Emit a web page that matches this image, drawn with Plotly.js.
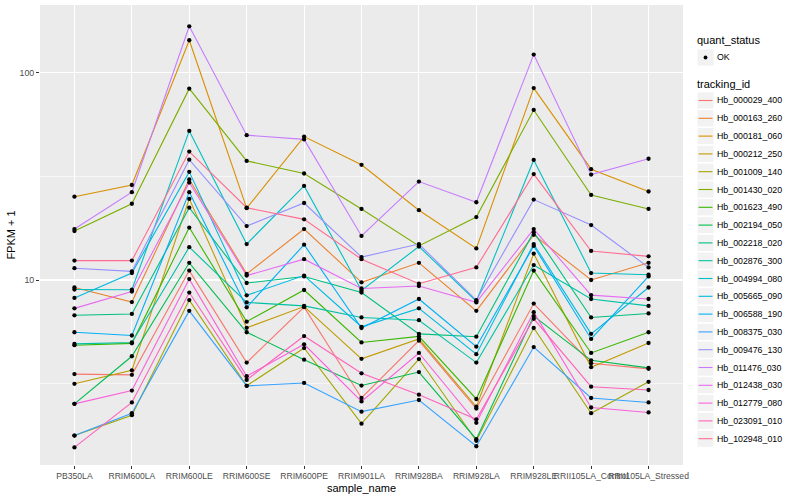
<!DOCTYPE html>
<html><head><meta charset="utf-8">
<script src="https://cdn.plot.ly/plotly-3.0.1.min.js"></script>
<style>html,body{margin:0;padding:0;background:#fff}#chart{width:800px;height:500px}</style>
</head><body><div id="chart"></div>
<script>
// ---- data ----
const samples = ["PB350LA","RRIM600LA","RRIM600LE","RRIM600SE","RRIM600PE","RRIM901LA","RRIM928BA","RRIM928LA","RRIM928LE","RRII105LA_Control","RRII105LA_Stressed"];
const trackingIds = ["Hb_000029_400","Hb_000163_260","Hb_000181_060","Hb_000212_250","Hb_001009_140","Hb_001430_020","Hb_001623_490","Hb_002194_050","Hb_002218_020","Hb_002876_300","Hb_004994_080","Hb_005665_090","Hb_006588_190","Hb_008375_030","Hb_009476_130","Hb_011476_030","Hb_012438_030","Hb_012779_080","Hb_023091_010","Hb_102948_010"];
const quantStatus = ["OK"];

// FPKM + 1 per sample, in sample order
const Hb_000029_400 = [3.52, 3.49, 11.1, 4.0, 7.4, 2.7, 5.1, 2.4, 7.7, 3.97, 3.73];
const Hb_000163_260 = [9.2, 7.83, 30.5, 10.7, 17.6, 9.75, 12.1, 7.1, 16.5, 10.0, 12.1];
const Hb_000181_060 = [25.2, 28.7, 143, 22.2, 49.1, 35.9, 21.7, 14.2, 84.1, 34.2, 26.7];
const Hb_000212_250 = [3.16, 3.67, 24.6, 5.88, 7.45, 4.17, 5.2, 2.45, 13.4, 3.8, 4.97];
const Hb_001009_140 = [1.78, 2.23, 8.0, 3.09, 4.7, 2.03, 4.16, 1.68, 5.87, 2.28, 3.23];
const Hb_001430_020 = [17.2, 23.3, 83.6, 37.5, 32.6, 22.0, 14.6, 20.1, 66, 25.7, 22.0];
const Hb_001623_490 = [4.85, 4.95, 17.9, 6.3, 8.95, 5.0, 5.35, 2.67, 11.1, 4.45, 5.6];
const Hb_002194_050 = [2.53, 4.29, 12.1, 5.6, 4.13, 3.1, 3.6, 1.71, 6.7, 4.1, 3.77];
const Hb_002218_020 = [6.76, 6.86, 22.3, 9.67, 10.4, 8.7, 5.5, 5.33, 17.0, 6.6, 6.9];
const Hb_002876_300 = [4.92, 5.0, 14.4, 7.8, 7.5, 6.6, 6.4, 4.0, 11.8, 8.1, 7.5];
const Hb_004994_080 = [9.0, 8.98, 52.3, 14.9, 28.4, 8.9, 14.5, 7.9, 37.9, 10.8, 10.6];
const Hb_005665_090 = [8.2, 10.8, 33.2, 8.44, 10.5, 5.95, 7.3, 4.39, 14.9, 5.5, 9.2];
const Hb_006588_190 = [5.6, 5.4, 26.5, 7.38, 14.8, 5.87, 8.1, 4.77, 14.6, 5.2, 10.4];
const Hb_008375_030 = [1.78, 2.28, 7.1, 3.09, 3.19, 2.32, 2.64, 1.58, 4.75, 2.7, 2.57];
const Hb_009476_130 = [11.4, 11.0, 38, 18.2, 23.5, 12.9, 14.9, 8.0, 24.4, 18.4, 11.5];
const Hb_011476_030 = [17.6, 26.5, 167, 49.9, 47.6, 16.3, 29.8, 23.7, 122, 32.2, 38.4];
const Hb_012438_030 = [7.3, 8.8, 29.5, 10.5, 12.6, 9.1, 9.35, 7.8, 17.6, 8.45, 8.1];
const Hb_012779_080 = [2.53, 2.93, 10.1, 3.44, 4.9, 2.6, 4.45, 2.05, 7.0, 2.43, 2.3];
const Hb_023091_010 = [1.56, 2.57, 8.7, 3.3, 5.37, 3.55, 2.8, 2.13, 6.5, 3.06, 2.95];
const Hb_102948_010 = [12.4, 12.4, 41.6, 22.3, 19.6, 12.6, 9.6, 11.5, 32.4, 13.8, 13.0];

const seriesValues = [Hb_000029_400, Hb_000163_260, Hb_000181_060, Hb_000212_250, Hb_001009_140, Hb_001430_020, Hb_001623_490, Hb_002194_050, Hb_002218_020, Hb_002876_300, Hb_004994_080, Hb_005665_090, Hb_006588_190, Hb_008375_030, Hb_009476_130, Hb_011476_030, Hb_012438_030, Hb_012779_080, Hb_023091_010, Hb_102948_010];

// ---- style ----
const seriesColors = ["#F8766D","#EA8331","#D89000","#C09B00","#A3A500","#7CAE00","#39B600","#00BB4E","#00BF7D","#00C1A3","#00BFC4","#00BAE0","#00B0F6","#35A2FF","#9590FF","#C77CFF","#E76BF3","#FA62DB","#FF62BC","#FF6C91"];
const FONT = "Liberation Sans, Arial, Helvetica, sans-serif";

const traces = [];
seriesValues.forEach((vals, i) => {
  traces.push({type:'scatter', mode:'lines', x:samples, y:vals, name:trackingIds[i],
    line:{color:seriesColors[i], width:1.1}, showlegend:false, hoverinfo:'skip'});
});
seriesValues.forEach((vals, i) => {
  traces.push({type:'scatter', mode:'markers', x:samples, y:vals, name:quantStatus[0],
    marker:{color:'#000', size:4.3, symbol:'circle'}, showlegend:false, hoverinfo:'skip'});
});

// panel in pixels
const L=40, R=683, T=5, B=465;
const px = x => (x-L)/(R-L);
const py = y => 1-(y-T)/(B-T);

const shapes = [], annotations = [];
function keyBox(cy){
  shapes.push({type:'rect', xref:'paper', yref:'paper', x0:px(697), x1:px(714), y0:py(cy+8.6), y1:py(cy-8.6),
    fillcolor:'#F2F2F2', line:{color:'#FFFFFF', width:1}, layer:'above'});
}
function legText(x, y, t, size){
  annotations.push({xref:'paper', yref:'paper', x:px(x), y:py(y), text:t, showarrow:false,
    xanchor:'left', yanchor:'middle', font:{family:FONT, size:size, color:'#000'}});
}
// quant_status legend
legText(695, 40, 'quant_status', 11);
keyBox(57.5);
shapes.push({type:'circle', xref:'paper', yref:'paper', x0:px(703.6), x1:px(707.4), y0:py(59.4), y1:py(55.6),
  fillcolor:'#000', line:{color:'#000', width:0}, layer:'above'});
legText(715, 57.5, quantStatus[0], 8.8);
// tracking_id legend
legText(695, 84, 'tracking_id', 11);
trackingIds.forEach((id, i) => {
  const cy = 100.5 + i*17.8;
  keyBox(cy);
  shapes.push({type:'line', xref:'paper', yref:'paper', x0:px(698.5), x1:px(712.5), y0:py(cy), y1:py(cy),
    line:{color:seriesColors[i], width:1.1}, layer:'above'});
  legText(715, cy, id, 8.8);
});

const layout = {
  width:800, height:500,
  margin:{l:L, r:800-R, t:T, b:500-B},
  paper_bgcolor:'#FFFFFF', plot_bgcolor:'#EBEBEB',
  font:{family:FONT, color:'#000'},
  showlegend:false,
  xaxis:{type:'category', categoryorder:'array', categoryarray:samples, range:[-0.6, 10.6],
    showgrid:true, gridcolor:'#FFFFFF', gridwidth:1.1, zeroline:false, showline:false,
    ticks:'outside', ticklen:3, tickwidth:1, tickcolor:'#333333', tickangle:0,
    tickfont:{family:FONT, size:8.6, color:'#4D4D4D'},
    title:{text:'sample_name', font:{family:FONT, size:11, color:'#000'}, standoff:3}},
  yaxis:{type:'log', range:[0.1084, 2.3253], tickvals:[10,100], ticktext:['10','100'],
    showgrid:true, gridcolor:'#FFFFFF', gridwidth:1.1, zeroline:false, showline:false,
    ticks:'outside', ticklen:3, tickwidth:1, tickcolor:'#333333',
    tickfont:{family:FONT, size:8.8, color:'#4D4D4D'},
    minor:{tickvals:[Math.sqrt(10), Math.sqrt(1000)], showgrid:true, gridcolor:'#FFFFFF', gridwidth:0.55, ticks:''},
    title:{text:'FPKM + 1', font:{family:FONT, size:11, color:'#000'}, standoff:1}},
  shapes:shapes, annotations:annotations
};
Plotly.newPlot('chart', traces, layout, {staticPlot:true, displayModeBar:false});
</script></body></html>
